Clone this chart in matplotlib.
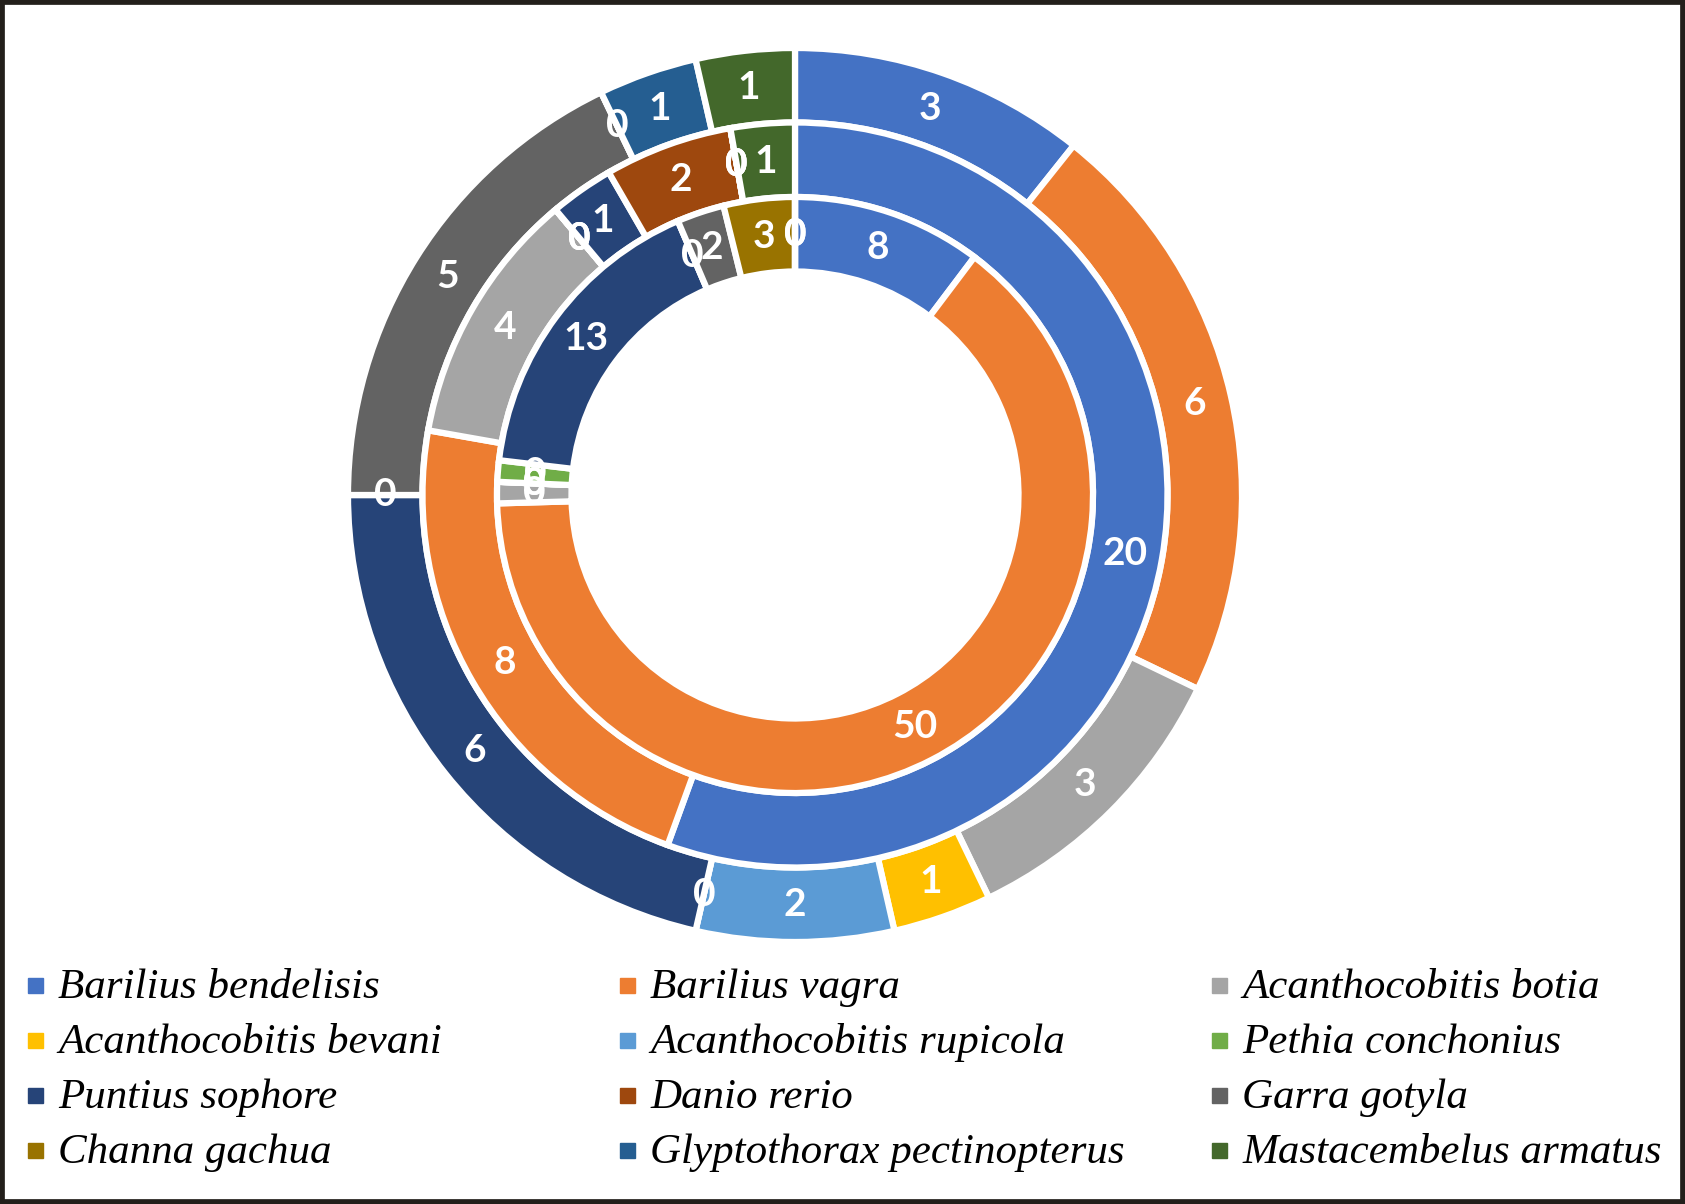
import matplotlib.pyplot as plt
from matplotlib.patches import Rectangle

# species in the order Excel draws them (clockwise from 12 o'clock)
species = ["Barilius bendelisis", "Barilius vagra", "Acanthocobitis botia",
           "Acanthocobitis bevani", "Acanthocobitis rupicola", "Pethia conchonius",
           "Puntius sophore", "Danio rerio", "Garra gotyla",
           "Channa gachua", "Glyptothorax pectinopterus", "Mastacembelus armatus"]
colors = ["#4472C4", "#ED7D31", "#A5A5A5", "#FFC000", "#5B9BD5", "#70AD47",
          "#264478", "#9E480E", "#636363", "#997300", "#255E91", "#43682B"]

# counts per ring (inner ring = first series)
inner = [8, 50, 0.9, 0, 0, 0.9, 13, 0, 2, 3, 0, 0]
middle = [20, 8, 4, 0, 0, 0, 1, 2, 0, 0, 0, 1]
outer = [3, 6, 3, 1, 2, 0, 6, 0, 5, 0, 1, 1]

W, H = 1685, 1204
fig = plt.figure(figsize=(W / 100, H / 100), dpi=100)
ax = fig.add_axes([348 / W, 1 - 942 / H, 894 / W, 894 / H])

ring = 1 / 6
for vals, r in [(outer, 1.0), (middle, 1 - ring), (inner, 1 - 2 * ring)]:
    total = sum(vals)
    ax.pie(vals, radius=r, colors=colors, startangle=90, counterclock=False,
           wedgeprops=dict(width=ring, edgecolor="white", linewidth=4.5),
           autopct=lambda p, t=total: f"{int(p * t / 100 + 1e-6)}",
           pctdistance=(r - ring / 2) / r,
           textprops=dict(color="white", fontsize=28, fontweight="bold", family="Lato"))
ax.set_xlim(-1, 1)
ax.set_ylim(-1, 1)

# legend, 3 columns filled row by row
row_y = [985, 1040, 1095, 1150]
col_x = [28, 620, 1212]
for i, name in enumerate(species):
    x = col_x[i % 3]
    y = row_y[i // 3]
    fig.patches.append(Rectangle((x / W, 1 - (y + 8) / H), 15 / W, 15 / H,
                                 transform=fig.transFigure, color=colors[i]))
    fig.text((x + 30) / W, 1 - (y + 13) / H, name, fontsize=31, style="italic",
             family="Liberation Serif", va="baseline", ha="left")

# dark frame around the whole picture
fig.patches.append(Rectangle((0, 0), 1, 1, transform=fig.transFigure, fill=False,
                             edgecolor="#231f1b", linewidth=7))

fig.savefig("out.png", dpi=100)
